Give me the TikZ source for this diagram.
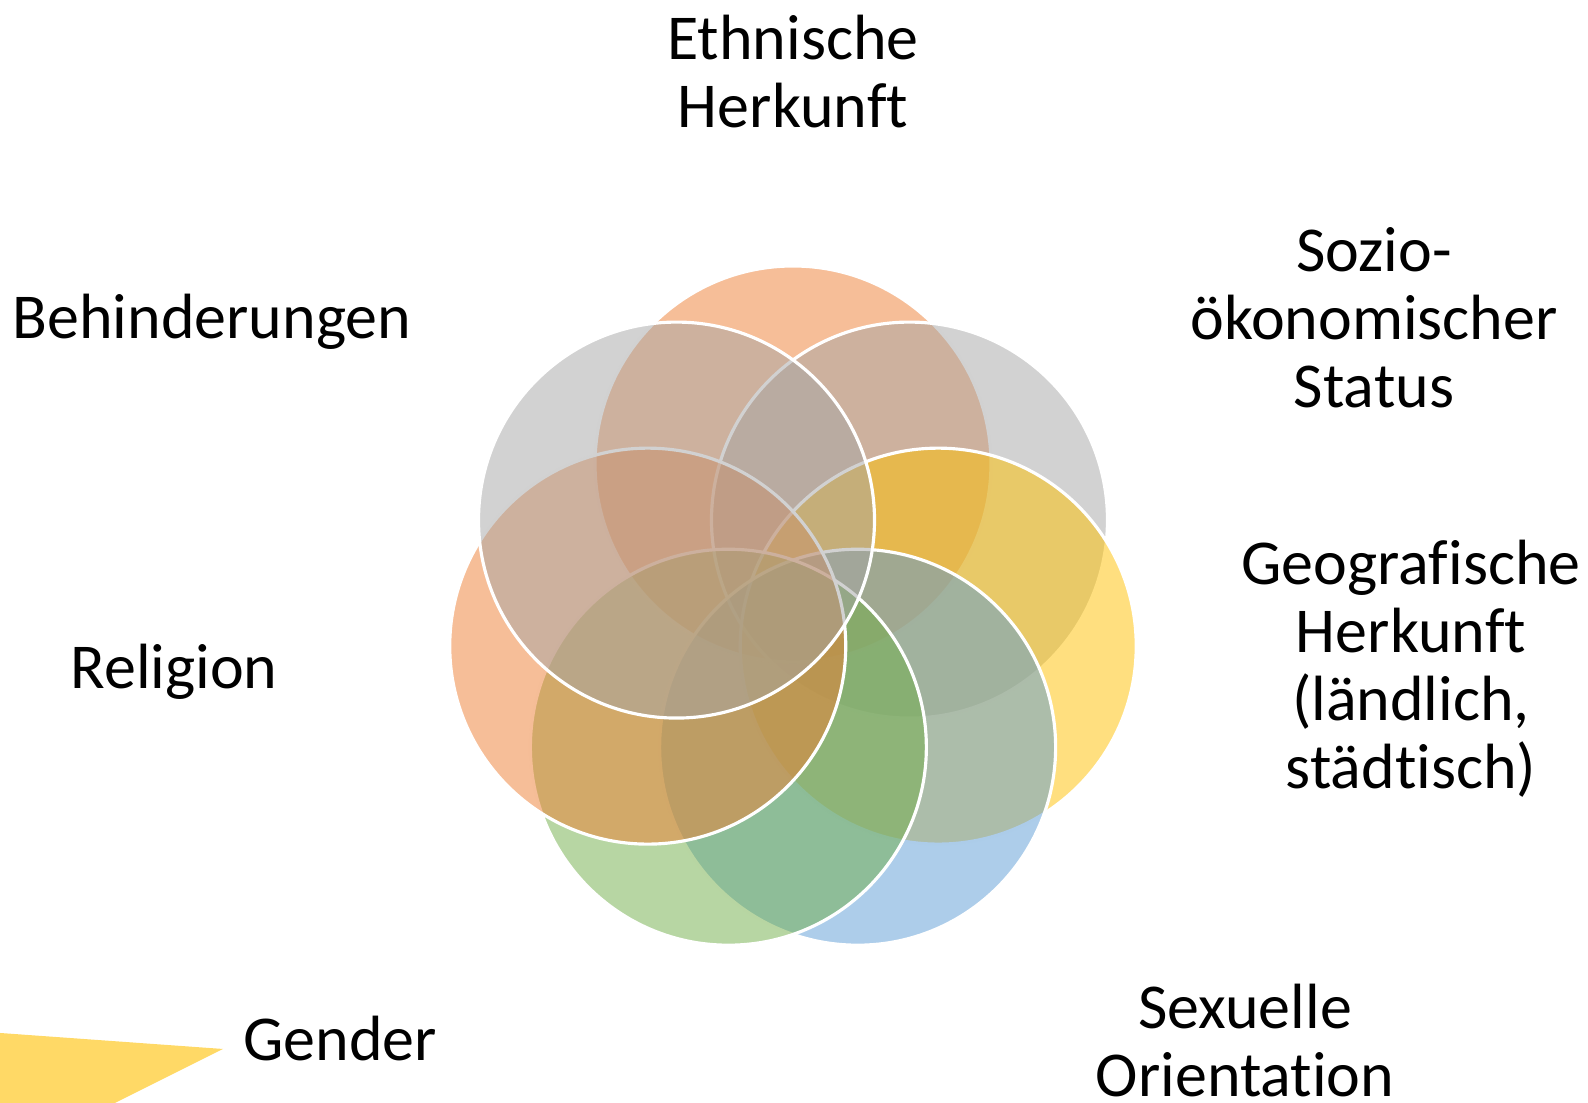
\documentclass[tikz,border=0pt]{standalone}
\usepackage{fontspec}
\setmainfont[Ligatures=NoCommon]{Carlito}
\usetikzlibrary{positioning,calc}

\definecolor{orangeA}{HTML}{ED7D31}
\definecolor{grayA}{HTML}{A5A5A5}
\definecolor{yellowA}{HTML}{FFC000}
\definecolor{blueA}{HTML}{5B9BD5}
\definecolor{greenA}{HTML}{70AD47}
\definecolor{yellowB}{HTML}{FFD966}

\begin{document}
\begin{tikzpicture}[x=0.1mm,y=0.1mm]

\tikzset{ring/.style = {shape=circle,draw=white,line width=0.9pt,fill opacity=0.5,
  inner sep=0pt,minimum size=39.6mm}}
\tikzset{label/.style = {align=center,anchor=base,
  font=\fontsize{18.2}{19.4}\selectfont}}

\useasboundingbox (0,0) rectangle (1588,1103);

% circles
\coordinate (m) at (793,490);
\foreach \a/\c/\n in {90/orangeA/1, 38.57/grayA/2, -12.86/yellowA/3, -64.29/blueA/4,
  -115.71/greenA/5, -167.14/orangeA/6, 141.43/grayA/7}
  \node[ring,fill=\c] (c\n) at ($(m)+(\a:149)$) {};

% labels (anchored at the last line)
\node[label] (ethnie) at (793,975) {Ethnische\\Herkunft};
\node[label] (sozio) at (1374,695) {Sozio-\\ökonomischer\\Status};
\node[label] (geo) at (1411,314) {Geografische\\Herkunft\\(ländlich,\\städtisch)};
\node[label] (sex) at (1245,6) {Sexuelle\\Orientation};
\node[label] (gender) at (340,42) {Gender};
\node[label] (religion) at (174,414) {Religion};
\node[label] (behind) at (212,764) {Behinderungen};

% wedge
\fill[yellowB] (0,70) -- (223,54) -- (115,0) -- (0,0) -- cycle;

\end{tikzpicture}
\end{document}
